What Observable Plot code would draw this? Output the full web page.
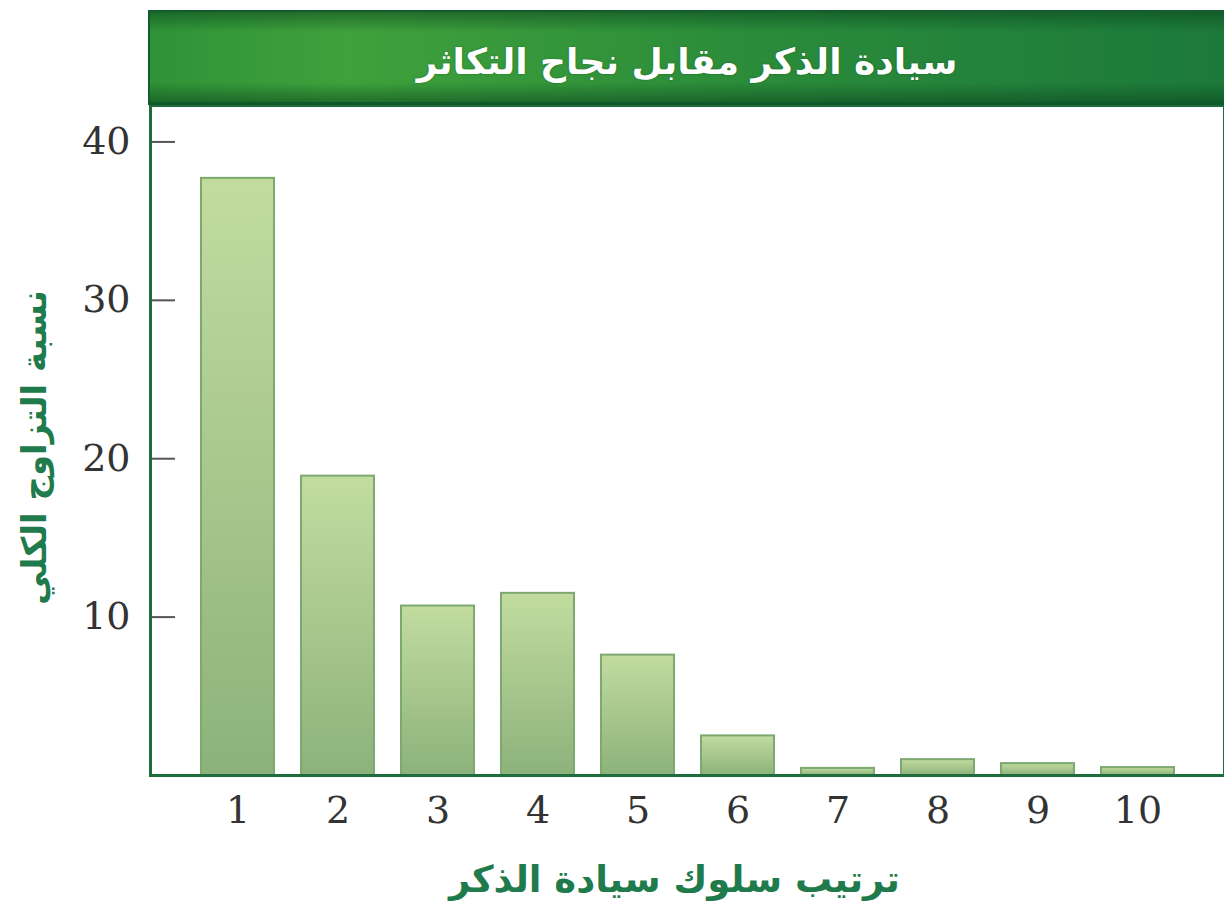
<!DOCTYPE html>
<html><head><meta charset="utf-8">
<script src="https://cdn.jsdelivr.net/npm/d3@7"></script>
<script src="https://cdn.jsdelivr.net/npm/@observablehq/plot@0.6"></script>
<style>
html,body{margin:0;padding:0;background:#fff;}
body{width:1224px;height:921px;overflow:hidden;position:relative;font-family:"DejaVu Sans",sans-serif;}
#title{position:absolute;left:148px;top:10px;width:1076px;height:95px;box-sizing:border-box;padding-top:8px;
  border-top:2px solid #145c2e;border-left:2px solid #145c2e;border-bottom:3px solid #0f5a2c;
  background:
    linear-gradient(to bottom, rgba(10,70,30,0.55), rgba(10,70,30,0) 22%, rgba(10,70,30,0) 78%, rgba(10,70,30,0.55)),
    linear-gradient(to right, #2f9237, #3fa13b 18%, #2b8c3a 55%, #1c793a 100%);
  color:#fff;font-weight:bold;font-size:36px;display:flex;align-items:center;justify-content:center;
  direction:rtl;text-shadow:0 0 2px rgba(0,40,10,0.4);}
#chart{position:absolute;left:0;top:105px;}
</style></head><body>
<div id="title"></div>
<div id="chart"></div>
<script>
const titleText = "سيادة الذكر مقابل نجاح التكاثر";
const xLabel = "ترتيب سلوك سيادة الذكر";
const yLabel = "نسبة التزاوج الكلي";
const ranks = [1, 2, 3, 4, 5, 6, 7, 8, 9, 10];
const values = [37.7, 18.9, 10.7, 11.5, 7.6, 2.5, 0.45, 1.0, 0.75, 0.5];
const yTicks = [10, 20, 30, 40];

document.getElementById("title").textContent = titleText;

const data = ranks.map((r, i) => ({rank: r, value: values[i]}));

const plot = Plot.plot({
  width: 1224,
  height: 816,
  marginLeft: 150,
  marginRight: 0,
  marginTop: 0,
  marginBottom: 146,
  style: {background: "transparent"},
  x: {type: "band", domain: ranks, paddingInner: 0.27, paddingOuter: 0.505},
  y: {domain: [0, 42.3]},
  marks: [
    Plot.barY(data, {x: "rank", y: "value", fill: "url(#barGrad)", stroke: "#7da870", strokeWidth: 2}),
    Plot.axisY(yTicks, {tickSize: -25, tickPadding: 45, stroke: "#555", strokeWidth: 2, fill: "#333",
      fontSize: 38, fontFamily: "DejaVu Serif", label: null}),
    Plot.axisX({tickSize: 0, tickPadding: 21, fill: "#333", fontSize: 38, fontFamily: "DejaVu Serif", label: null}),
    Plot.frame({stroke: "#1d6e3c", strokeWidth: 3}),
    Plot.text([yLabel], {frameAnchor: "left", dx: -115, dy: 7, rotate: -90, textAnchor: "middle", text: d => d,
      fill: "#1f7a4c", fontSize: 34, fontWeight: "bold", fontFamily: "DejaVu Sans"}),
    Plot.text([xLabel], {frameAnchor: "bottom", dx: -13, dy: 116, textAnchor: "middle", text: d => d,
      fill: "#1f7a4c", fontSize: 37, fontWeight: "bold", fontFamily: "DejaVu Sans"})
  ]
});

const ns = "http://www.w3.org/2000/svg";
const defs = document.createElementNS(ns, "defs");
const grad = document.createElementNS(ns, "linearGradient");
grad.setAttribute("id", "barGrad");
grad.setAttribute("x1", "0"); grad.setAttribute("y1", "0");
grad.setAttribute("x2", "0"); grad.setAttribute("y2", "1");
[["0%", "#c2dc9f"], ["100%", "#8cb27b"]].forEach(([o, c]) => {
  const s = document.createElementNS(ns, "stop");
  s.setAttribute("offset", o); s.setAttribute("stop-color", c);
  grad.appendChild(s);
});
defs.appendChild(grad);
plot.insertBefore(defs, plot.firstChild);

document.getElementById("chart").appendChild(plot);
</script>
</body></html>
